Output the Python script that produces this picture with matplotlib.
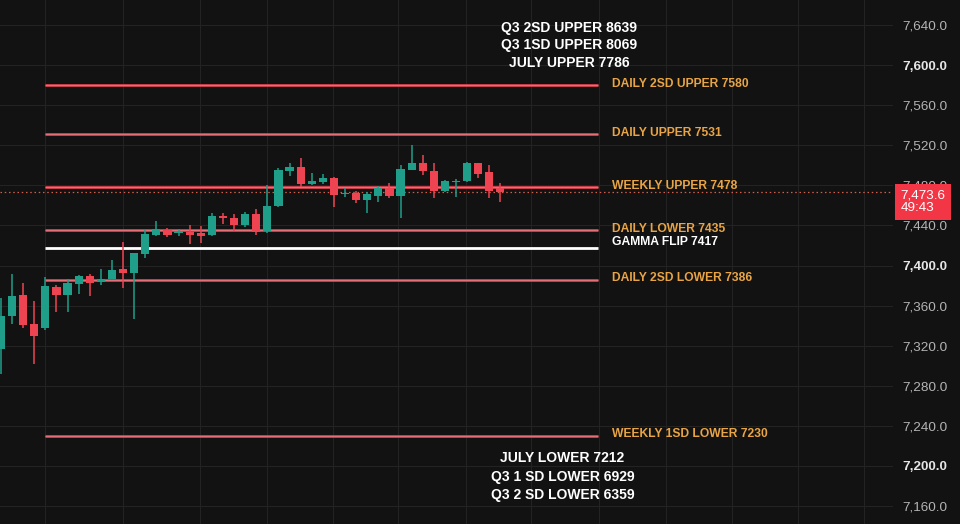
import numpy as np
import matplotlib
matplotlib.use('Agg')
import matplotlib.pyplot as plt
import matplotlib.transforms as mtransforms

# ==== DATA ====
opens = [7317, 7350, 7371, 7342, 7338, 7379, 7371, 7382, 7390, 7384,
         7387, 7397, 7393, 7411, 7430, 7435, 7432, 7433, 7432, 7430,
         7449, 7447, 7440, 7451, 7434, 7459, 7494, 7498, 7481, 7483,
         7487, 7471, 7472, 7465, 7469, 7477, 7469, 7495, 7502, 7494,
         7474, 7483, 7484, 7502, 7493, 7477]
highs = [7368, 7392, 7383, 7365, 7389, 7381, 7387, 7391, 7392, 7397,
         7405, 7423, 7412, 7435, 7444, 7437, 7436, 7440, 7439, 7452,
         7452, 7451, 7453, 7456, 7480, 7497, 7502, 7507, 7492, 7491,
         7488, 7477, 7474, 7473, 7479, 7482, 7500, 7520, 7510, 7502,
         7485, 7486, 7503, 7502, 7500, 7482]
lows = [7292, 7342, 7338, 7302, 7336, 7354, 7354, 7372, 7370, 7381,
        7387, 7378, 7347, 7407, 7429, 7428, 7429, 7421, 7422, 7429,
        7441, 7434, 7438, 7430, 7432, 7458, 7489, 7478, 7480, 7481,
        7458, 7468, 7462, 7452, 7463, 7467, 7447, 7495, 7490, 7467,
        7473, 7468, 7483, 7487, 7467, 7463]
closes = [7350, 7370, 7341, 7330, 7380, 7371, 7383, 7390, 7383, 7387,
          7396, 7393, 7412, 7431, 7436, 7430, 7434, 7430, 7429, 7449,
          7447, 7440, 7451, 7433, 7459, 7495, 7498, 7481, 7484, 7487,
          7470, 7472, 7465, 7471, 7477, 7469, 7496, 7502, 7494, 7474,
          7484, 7484, 7502, 7491, 7474, 7473.6]

level_names = ['DAILY 2SD UPPER', 'DAILY UPPER', 'WEEKLY UPPER', 'DAILY LOWER',
               'GAMMA FLIP', 'DAILY 2SD LOWER', 'WEEKLY 1SD LOWER']
level_values = [7580, 7531, 7478, 7435, 7417, 7386, 7230]

upper_names = ['Q3 2SD UPPER', 'Q3 1SD UPPER', 'JULY UPPER']
upper_values = [8639, 8069, 7786]
lower_names = ['JULY LOWER', 'Q3 1 SD LOWER', 'Q3 2 SD LOWER']
lower_values = [7212, 6929, 6359]

last_price = 7473.6
countdown = '49:43'
price_ticks = np.arange(7160, 7641, 40)
# ==============

BG = '#121212'
GREEN = '#1f9e89'
RED = '#ee4452'
LEVEL_RED = '#d8444f'
ORANGE = '#e9a445'
GRID = '#232323'

plt.rcParams['font.family'] = ['Liberation Sans', 'DejaVu Sans']

fig = plt.figure(figsize=(9.6, 5.24), dpi=100, facecolor=BG)
ax = fig.add_axes([0, 0, 0.93, 1])
ax.set_facecolor(BG)

n = len(opens)
x = np.arange(n)
o = np.array(opens, dtype=float)
c = np.array(closes, dtype=float)
colors = [GREEN if cc >= oo else RED for oo, cc in zip(o, c)]

# grid
for gx in [3.96, 10.96, 17.9, 23.96, 29.9, 35.8, 41.9, 47.8, 53.9, 59.9, 65.9, 71.8, 77.8]:
    ax.axvline(gx, color=GRID, lw=0.8, zorder=0)
for p in price_ticks:
    ax.axhline(p, color=GRID, lw=0.8, zorder=0)

# candles
ax.vlines(x, lows, highs, colors=colors, lw=1.1, zorder=3)
bottoms = np.minimum(o, c)
heights = np.maximum(np.abs(c - o), 1.3)
ax.bar(x, heights, bottom=bottoms, width=0.74, color=colors, zorder=4, linewidth=0)

# level lines and labels
line_start, line_end = 3.96, 53.8
for name, val in zip(level_names, level_values):
    is_gamma = name.startswith('GAMMA')
    ax.hlines(val, line_start, line_end, colors='white' if is_gamma else LEVEL_RED,
              lw=2.0, zorder=2)
    if not is_gamma:
        ax.hlines(val, line_start, line_end, colors='#ee8088', lw=0.5, zorder=2)
    dy = 6 if is_gamma else 1.5
    ax.text(55.05, val + dy, f'{name} {val}', color='white' if is_gamma else ORANGE,
            fontsize=8.7, fontweight='bold', va='center', ha='left', zorder=5)

# current price line
ax.axhline(last_price, color='#d0604c', lw=0.9, ls=(0, (1.2, 2.2)), zorder=1)

# off-chart level blocks
trans = mtransforms.blended_transform_factory(ax.transData, ax.transAxes)
for i, (name, val) in enumerate(zip(upper_names, upper_values)):
    ax.text(51.2, 0.947 - i * 0.0335, f'{name} {val}', transform=trans, color='white',
            fontsize=10, fontweight='bold', ha='center', va='center')
for i, (name, val) in enumerate(zip(lower_names, lower_values)):
    ax.text(50.6, 0.126 - i * 0.0355, f'{name} {val}', transform=trans, color='white',
            fontsize=10, fontweight='bold', ha='center', va='center')

ax.set_xlim(-0.09, 80.36)
ax.set_ylim(7142, 7665)
ax.set_xticks([])
ax.yaxis.tick_right()
ax.set_yticks(price_ticks)
ax.set_yticklabels([f'{p:,.1f}' for p in price_ticks])
ax.tick_params(axis='y', length=0, pad=7, labelsize=9.7, labelcolor='#b4b4b4')
for lbl, p in zip(ax.get_yticklabels(), price_ticks):
    if p % 200 == 0:
        lbl.set_fontweight('bold')
        lbl.set_color('#e6e6e6')
for s in ax.spines.values():
    s.set_visible(False)

# price tag (covers the 7,480 label like the original)
ytr = mtransforms.blended_transform_factory(ax.transAxes, ax.transData)
ax.text(1.009, last_price + 2.5, f'{last_price:,.1f}\n{countdown}', transform=ytr,
        color='white', fontsize=9.7, ha='left', va='top', linespacing=1.1,
        clip_on=False, zorder=10,
        bbox=dict(boxstyle='square,pad=0.4', fc='#f23645', ec='none'))

fig.savefig('out.png', dpi=100, facecolor=BG)
